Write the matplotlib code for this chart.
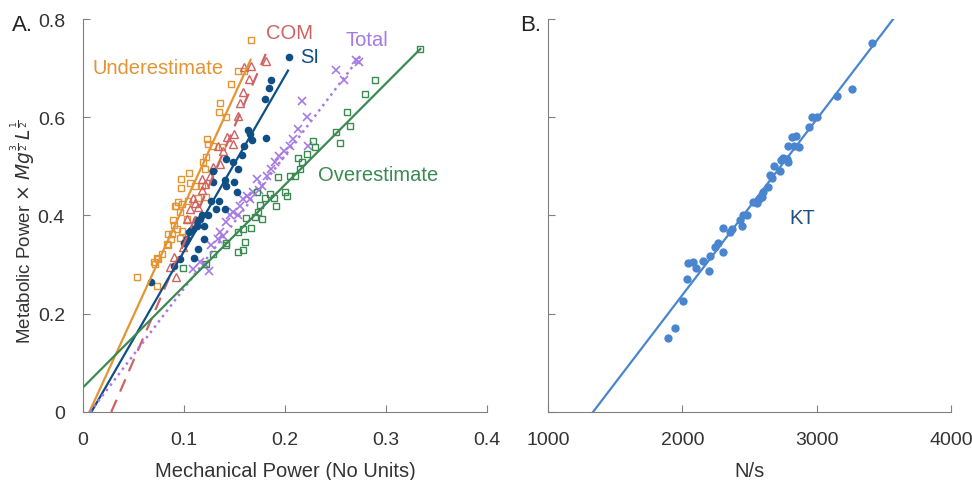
import numpy as np
import matplotlib.pyplot as plt

plt.rcParams['font.family'] = ['Liberation Sans', 'DejaVu Sans']

# ---- panel A data (mechanical power, metabolic power) ----
under_x = [0.053, 0.0736, 0.0703, 0.0736, 0.0785, 0.0828, 0.0845, 0.0878, 0.090, 0.0894,
           0.0934, 0.096, 0.091, 0.096, 0.0977, 0.097, 0.0967, 0.105, 0.106, 0.1027,
           0.104, 0.111, 0.114, 0.119, 0.121, 0.122, 0.1225, 0.124, 0.1215, 0.1175,
           0.129, 0.1347, 0.1356, 0.138, 0.142, 0.1465, 0.1538, 0.159, 0.166, 0.0713,
           0.0746, 0.0871, 0.0845, 0.0983, 0.0918, 0.0944]
under_y = [0.274, 0.257, 0.305, 0.313, 0.322, 0.342, 0.363, 0.363, 0.381, 0.390,
           0.373, 0.354, 0.420, 0.407, 0.424, 0.456, 0.475, 0.487, 0.466, 0.393,
           0.430, 0.461, 0.435, 0.508, 0.495, 0.519, 0.556, 0.546, 0.437, 0.461,
           0.542, 0.610, 0.629, 0.539, 0.600, 0.667, 0.695, 0.695, 0.758, 0.301,
           0.312, 0.352, 0.339, 0.369, 0.420, 0.427]

com_x = [0.0917, 0.0861, 0.090, 0.0987, 0.101, 0.1027, 0.111, 0.114, 0.1175, 0.121,
         0.126, 0.129, 0.1356, 0.134, 0.139, 0.143, 0.149, 0.150, 0.153, 0.1554,
         0.158, 0.164, 0.166, 0.159, 0.181, 0.106, 0.109, 0.1175]
com_y = [0.274, 0.295, 0.315, 0.335, 0.352, 0.393, 0.426, 0.417, 0.451, 0.464,
         0.481, 0.498, 0.505, 0.542, 0.532, 0.559, 0.546, 0.566, 0.602, 0.629,
         0.652, 0.678, 0.705, 0.702, 0.714, 0.413, 0.435, 0.475]

si_x = [0.067, 0.0904, 0.096, 0.110, 0.114, 0.1198, 0.100, 0.1027, 0.105, 0.109,
        0.1126, 0.1158, 0.1198, 0.124, 0.1264, 0.129, 0.129, 0.135, 0.1317, 0.1406,
        0.1406, 0.142, 0.1495, 0.152, 0.142, 0.149, 0.153, 0.157, 0.159, 0.163,
        0.165, 0.1676, 0.181, 0.180, 0.1845, 0.186, 0.2036, 0.107, 0.112, 0.118]
si_y = [0.265, 0.297, 0.312, 0.313, 0.332, 0.352, 0.344, 0.352, 0.366, 0.373,
        0.379, 0.393, 0.379, 0.401, 0.430, 0.490, 0.468, 0.430, 0.413, 0.413,
        0.472, 0.461, 0.468, 0.447, 0.515, 0.508, 0.495, 0.523, 0.542, 0.575,
        0.566, 0.553, 0.557, 0.637, 0.659, 0.676, 0.722, 0.370, 0.390, 0.400]

total_x = [0.109, 0.1158, 0.121, 0.125, 0.127, 0.134, 0.1356, 0.139, 0.142, 0.1455,
           0.149, 0.153, 0.1554, 0.1587, 0.162, 0.165, 0.1686, 0.172, 0.174, 0.177,
           0.182, 0.186, 0.190, 0.194, 0.199, 0.205, 0.208, 0.213, 0.2165, 0.2215,
           0.223, 0.2505, 0.258, 0.270, 0.2736]
total_y = [0.291, 0.305, 0.301, 0.288, 0.339, 0.352, 0.366, 0.359, 0.386, 0.400,
           0.407, 0.400, 0.420, 0.434, 0.440, 0.434, 0.447, 0.475, 0.451, 0.461,
           0.481, 0.495, 0.508, 0.522, 0.532, 0.542, 0.556, 0.576, 0.634, 0.600,
           0.542, 0.697, 0.675, 0.717, 0.712]

over_x = [0.0987, 0.122, 0.129, 0.142, 0.142, 0.1538, 0.1587, 0.153, 0.158, 0.160,
          0.166, 0.1614, 0.170, 0.1736, 0.177, 0.175, 0.172, 0.180, 0.185, 0.189,
          0.191, 0.1934, 0.200, 0.202, 0.205, 0.210, 0.213, 0.215, 0.2165, 0.2215,
          0.2274, 0.230, 0.251, 0.2545, 0.261, 0.264, 0.279, 0.289, 0.334]
over_y = [0.293, 0.301, 0.322, 0.340, 0.345, 0.366, 0.373, 0.325, 0.329, 0.346,
          0.374, 0.394, 0.396, 0.407, 0.393, 0.421, 0.447, 0.435, 0.444, 0.435,
          0.419, 0.478, 0.447, 0.440, 0.481, 0.481, 0.517, 0.494, 0.508, 0.525,
          0.551, 0.539, 0.570, 0.548, 0.610, 0.583, 0.648, 0.675, 0.739]

# regression line end points
fit_under_x, fit_under_y = [0.0063, 0.166], [0.0, 0.717]
fit_com_x, fit_com_y = [0.028, 0.181], [0.0, 0.729]
fit_si_x, fit_si_y = [0.0083, 0.203], [0.0, 0.695]
fit_total_x, fit_total_y = [0.007, 0.275], [0.0, 0.725]
fit_over_x, fit_over_y = [0.0, 0.334], [0.05, 0.739]

# ---- panel B data (N/s, metabolic power) ----
kt_x = [1896, 1946, 2003, 2037, 2045, 2077, 2100, 2157, 2199, 2206,
        2243, 2268, 2301, 2306, 2355, 2367, 2430, 2442, 2455, 2484,
        2529, 2554, 2574, 2591, 2604, 2641, 2654, 2666, 2683, 2728,
        2733, 2753, 2778, 2790, 2783, 2816, 2828, 2848, 2865, 2940,
        2965, 3002, 3151, 3263, 3412]
kt_y = [0.151, 0.170, 0.225, 0.271, 0.303, 0.305, 0.293, 0.308, 0.288, 0.318,
        0.335, 0.343, 0.326, 0.375, 0.366, 0.372, 0.390, 0.379, 0.400, 0.400,
        0.427, 0.426, 0.434, 0.437, 0.447, 0.458, 0.483, 0.477, 0.500, 0.491,
        0.513, 0.517, 0.516, 0.508, 0.542, 0.559, 0.542, 0.562, 0.539, 0.580,
        0.600, 0.600, 0.643, 0.658, 0.751]
fit_kt_x, fit_kt_y = [1335, 3570], [0.0, 0.8]

c_under = '#e39433'
c_com = '#cf6262'
c_si = '#0f4f86'
c_total = '#a57ae3'
c_over = '#3b8a52'
c_kt = '#4a86cf'
spine_col = '#808080'

fig = plt.figure(figsize=(9.72, 4.81), dpi=100)
axA = fig.add_axes([0.0854, 0.1414, 0.4156, 0.817])
axB = fig.add_axes([0.5638, 0.1414, 0.4146, 0.817])

ms = 5
axA.plot(under_x, under_y, 's', mfc='none', mec=c_under, ms=ms, mew=1)
axA.plot(com_x, com_y, '^', mfc='none', mec=c_com, ms=ms + 1, mew=1)
axA.plot(total_x, total_y, 'x', color=c_total, ms=ms + 1, mew=1.2)
axA.plot(over_x, over_y, 's', mfc='none', mec=c_over, ms=ms, mew=1)
axA.plot(si_x, si_y, 'o', color=c_si, ms=ms + 0.5, mew=0)

axA.plot(fit_under_x, fit_under_y, '-', color=c_under, lw=1.6)
axA.plot(fit_com_x, fit_com_y, '--', color=c_com, lw=1.6, dashes=(6, 4))
axA.plot(fit_si_x, fit_si_y, '-', color=c_si, lw=1.6)
axA.plot(fit_total_x, fit_total_y, ':', color=c_total, lw=1.8)
axA.plot(fit_over_x, fit_over_y, '-', color=c_over, lw=1.6)

fs = 14.5
axA.text(0.0746, 0.702, 'Underestimate', color=c_under, fontsize=fs, ha='center', va='center')
axA.text(0.204, 0.772, 'COM', color=c_com, fontsize=fs, ha='center', va='center')
axA.text(0.224, 0.724, 'SI', color=c_si, fontsize=fs, ha='center', va='center')
axA.text(0.281, 0.758, 'Total', color=c_total, fontsize=fs, ha='center', va='center')
axA.text(0.292, 0.483, 'Overestimate', color=c_over, fontsize=fs, ha='center', va='center')

axA.set_xlim(0, 0.4)
axA.set_ylim(0, 0.8)
axA.set_xticks([0, 0.1, 0.2, 0.3, 0.4])
axA.set_xticklabels(['0', '0.1', '0.2', '0.3', '0.4'])
axA.set_yticks([0, 0.2, 0.4, 0.6, 0.8])
axA.set_yticklabels(['0', '0.2', '0.4', '0.6', '0.8'])
axA.set_xlabel('Mechanical Power (No Units)', fontsize=14.5, color='#333333', labelpad=9)
axA.set_ylabel(r'Metabolic Power $\times$ $Mg^{\frac{3}{2}}\,L^{\frac{1}{2}}$',
               fontsize=13.5, color='#333333')
axA.yaxis.set_label_coords(-0.115, 0.46)

axB.plot(kt_x, kt_y, 'o', color=c_kt, ms=6, mew=0)
axB.plot(fit_kt_x, fit_kt_y, '-', color=c_kt, lw=1.6)
axB.text(2896, 0.396, 'KT', color='#1f4f7d', fontsize=fs, ha='center', va='center')
axB.set_xlim(1000, 4000)
axB.set_ylim(0, 0.8)
axB.set_xticks([1000, 2000, 3000, 4000])
axB.set_yticks([0, 0.2, 0.4, 0.6, 0.8])
axB.set_yticklabels([])
axB.set_xlabel('N/s', fontsize=14.5, color='#333333', labelpad=9)

for ax in (axA, axB):
    for s in ('top', 'right'):
        ax.spines[s].set_visible(False)
    for s in ('left', 'bottom'):
        ax.spines[s].set_color(spine_col)
    ax.tick_params(direction='in', length=5, color=spine_col, labelsize=14,
                   labelcolor='#333333')
    ax.tick_params(axis='x', pad=14)
    ax.tick_params(axis='y', pad=13)

fig.text(0.012, 0.948, 'A.', fontsize=16, color='#222222', va='center')
fig.text(0.535, 0.948, 'B.', fontsize=16, color='#222222', va='center')

fig.savefig('out.png', dpi=100)
